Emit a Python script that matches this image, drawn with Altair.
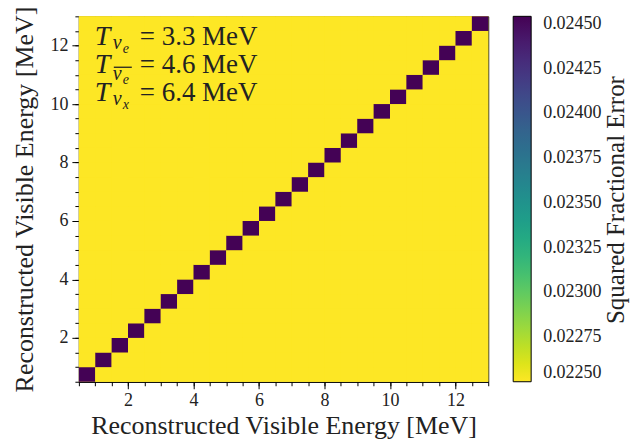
import altair as alt
import pandas as pd

# ---- data ----
bin_edges = [0.5, 1.0, 1.5, 2.0, 2.5, 3.0, 3.5, 4.0, 4.5, 5.0, 5.5, 6.0, 6.5,
             7.0, 7.5, 8.0, 8.5, 9.0, 9.5, 10.0, 10.5, 11.0, 11.5, 12.0, 12.5, 13.0]
diag_value = 0.02454      # squared fractional error on the diagonal
off_value = 0.02250       # off-diagonal
temperatures = ["3.3", "4.6", "6.4"]
flavour_sub = ["e", "e", "x"]
color_ticks = [0.02250, 0.02275, 0.02300, 0.02325, 0.02350, 0.02375, 0.02400, 0.02425, 0.02450]
color_domain = [0.02250, 0.024543]
major_ticks = [2, 4, 6, 8, 10, 12]
minor_ticks = [v for v in bin_edges]
axis_domain = [0.5, 13.0]
colorbar_title = "Squared Fractional Error"

FONT = "Liberation Serif"
W, H = 410, 366

rows = []
n = len(bin_edges) - 1
for i in range(n):
    for j in range(n):
        rows.append(dict(x=bin_edges[i], x2=bin_edges[i + 1],
                         y=bin_edges[j], y2=bin_edges[j + 1],
                         v=diag_value if i == j else off_value))
df = pd.DataFrame(rows)

# full-matrix backing cell (off-diagonal value) so that anti-aliased seams stay yellow
bg = pd.DataFrame([dict(x=bin_edges[0], x2=bin_edges[-1], y=bin_edges[0], y2=bin_edges[-1], v=off_value)])

xscale = alt.Scale(domain=axis_domain, nice=False, zero=False)
yscale = alt.Scale(domain=axis_domain, nice=False, zero=False)
cscale = alt.Scale(scheme="viridis", reverse=True, domain=color_domain)

cb_legend = alt.Legend(type="gradient", title=None, values=color_ticks,
                       format=".5f", orient="right", offset=25,
                       direction="vertical",
                       gradientLength=H, gradientThickness=18,
                       gradientStrokeColor="black", gradientStrokeWidth=1,
                       labelFontSize=18, labelFont=FONT, labelOffset=12,
                       labelOverlap=False, labelColor="#222")

xaxis = alt.Axis(values=major_ticks, title="Reconstructed Visible Energy [MeV]", orient="bottom",
                 tickSize=7, labelPadding=3, titlePadding=3, format="d")
yaxis = alt.Axis(values=major_ticks, title="Reconstructed Visible Energy [MeV]", orient="left",
                 tickSize=7, labelPadding=4, titlePadding=12, format="d")


def cells(data, show_axes):
    return alt.Chart(data).mark_rect().encode(
        x=alt.X("x:Q", scale=xscale, axis=xaxis if show_axes else None),
        x2="x2:Q",
        y=alt.Y("y:Q", scale=yscale, axis=yaxis if show_axes else None),
        y2="y2:Q",
        color=alt.Color("v:Q", scale=cscale, legend=cb_legend),
    )


backing = cells(bg, False)
heat = cells(df, True)

minor = alt.Chart(pd.DataFrame({"m": minor_ticks})).mark_point(opacity=0).encode(
    x=alt.X("m:Q", scale=xscale,
            axis=alt.Axis(values=minor_ticks, orient="bottom", tickSize=4, labels=False,
                          domain=False, title=None)),
    y=alt.Y("m:Q", scale=yscale,
            axis=alt.Axis(values=minor_ticks, orient="left", tickSize=4, labels=False,
                          domain=False, title=None)),
)


def piece(s, px, py, size, italic, angle=0, align="left"):
    return alt.Chart(alt.Data(values=[{"k": 1}])).mark_text(
        text=s, fontSize=size, font=FONT, fontStyle="italic" if italic else "normal",
        align=align, baseline="alphabetic", color="#222", angle=angle
    ).encode(x=alt.value(px), y=alt.value(py))


ann = []
for k, (t, sub) in enumerate(zip(temperatures, flavour_sub)):
    base = 29 + 28 * k
    nu_drop = 7 if k == 1 else 4
    ann.append(piece("T", 16, base, 28, True))
    ann.append(piece("\u03bd", 34, base + nu_drop, 20, True))
    ann.append(piece(sub, 44, base + nu_drop + 4, 14, True))
    ann.append(piece("= " + t + " MeV", 61, base, 27, False))

overline = alt.Chart(alt.Data(values=[{"k": 1}])).mark_rule(color="#222", strokeWidth=1.3).encode(
    x=alt.value(35), x2=alt.value(53), y=alt.value(51))

cb_title = piece(colorbar_title, 546, 184, 25, False, angle=270, align="center")

chart = alt.layer(backing, heat, minor, *ann, overline, cb_title).resolve_axis(
    x="independent", y="independent"
).properties(
    width=W, height=H,
    autosize=alt.AutoSizeParams(type="none"),
    padding={"left": 71, "top": 8, "right": 143, "bottom": 62},
).configure_axis(
    labelFont=FONT, titleFont=FONT, labelFontSize=18, titleFontSize=26,
    titleFontWeight="normal", labelColor="#222", titleColor="#222",
    domainColor="black", tickColor="black", grid=False,
).configure_view(stroke="black", strokeWidth=1)

chart.save("out.html", embed_options={"renderer": "svg", "actions": False})
